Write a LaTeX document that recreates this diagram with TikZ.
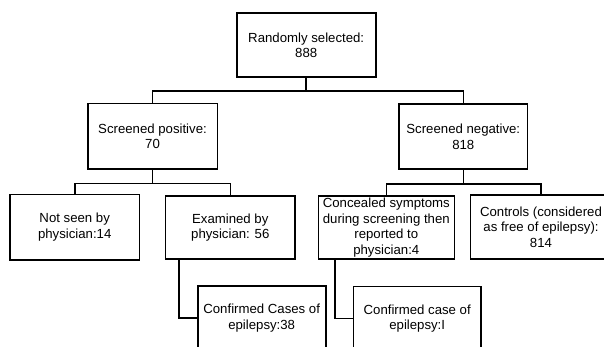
\documentclass[tikz,border=0pt]{standalone}
\usepackage{fontspec}
\setmainfont{Liberation Sans}
\begin{document}
\begin{tikzpicture}[x=1pt,y=-1pt]
\tikzstyle{box} = [draw, line width=1.6pt, align=center, inner sep=1pt, font=\fontsize{13.2}{15.7}\selectfont];
\tikzstyle{link} = [line width=1.6pt];
\useasboundingbox (0,0) rectangle (604,347);

\node[box, minimum width=139pt, minimum height=64pt] (top) at (306.2,45.3) {Randomly selected:\\888};
\node[box, minimum width=129.6pt, minimum height=65.7pt] (pos) at (152.5,136.2) {Screened positive:\\70};
\node[box, minimum width=128.7pt, minimum height=65pt] (neg) at (463.3,136.5) {Screened negative:\\818};

\node[box, minimum width=129.3pt, minimum height=65.7pt] (notseen) at (74.7,227.2) {Not seen by\\physician:14};
\node[box, minimum width=129.3pt, minimum height=63pt] (exam) at (230.3,227.5) {Examined by\\physician: 56};
\node[box, minimum width=136pt, minimum height=63pt] (hide) at (386.3,227.5) {Concealed symptoms\\during screening then\\reported to\\physician:4};
\node[box, minimum width=141pt, minimum height=64pt] (ctrl) at (541,227) {Controls (considered\\as free of epilepsy):\\814};

\node[box, minimum width=128pt, minimum height=64pt] (conf-a) at (261.7,318) {Confirmed Cases of\\epilepsy:38};
\node[box, minimum width=127.7pt, minimum height=64pt] (conf-b) at (417.2,318.5) {Confirmed case of\\epilepsy:I};

% tree links
\draw[link] (top.south) -- +(0,12.7) -| (pos.north);
\draw[link] (top.south) -- +(0,12.7) -| (neg.north);
\draw[link] (pos.south) -- +(0,13.7) -| (notseen.north);
\draw[link] (pos.south) -- +(0,13.7) -| (exam.north);
\draw[link] (neg.south) -- +(0,14) -| (hide.north);
\draw[link] (neg.south) -- +(0,14) -| (ctrl.north);
\draw[link] ([xshift=-51.3pt]exam.south) |- (conf-a.west);
\draw[link] ([xshift=-51.3pt]hide.south) |- (conf-b.west);
\end{tikzpicture}
\end{document}
